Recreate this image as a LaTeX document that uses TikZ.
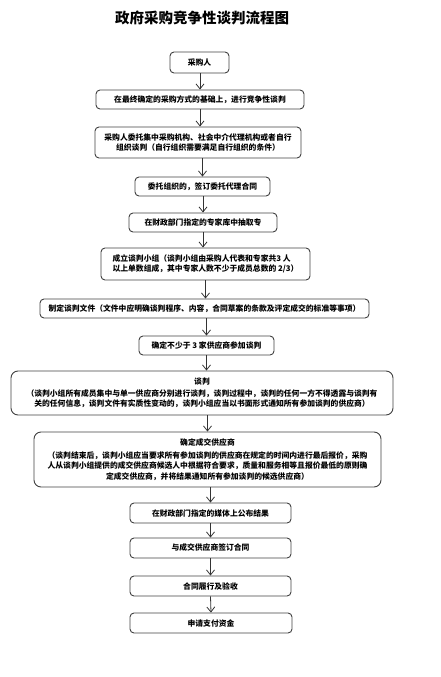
\documentclass[tikz,border=0pt]{standalone}
\usepackage{fontspec}
\setmainfont{Noto Sans CJK SC}
\usetikzlibrary{arrows.meta}
\tikzset{
  box/.style={draw=black!75, line width=0.9pt, rounded corners=4pt, inner sep=0pt, align=center,
    font=\fontsize{7.8}{10.5}\selectfont\bfseries, text=black},
  bigbox/.style={box, rounded corners=7pt},
  arr/.style={draw=black!80, line width=0.8pt, -{Straight Barb[length=5pt,width=8pt,line width=0.8pt]}},
}
\begin{document}
\begin{tikzpicture}[x=1pt,y=-1pt]
\useasboundingbox (0,0) rectangle (441,677);
\node[font=\fontsize{14.5}{16}\selectfont\bfseries] (title) at (202,18) {政府采购竞争性谈判流程图};
\node[box, minimum width=59pt, minimum height=21pt] (n1) at (199.5,62.5) {采购人};
\node[box, minimum width=208pt, minimum height=19pt] (n2) at (200,99.5) {在最终确定的采购方式的基础上，进行竞争性谈判};
\node[box, minimum width=206pt, minimum height=31pt] (n3) at (198,142.5) {采购人委托集中采购机构、社会中介代理机构或者自行\\组织谈判（自行组织需要满足自行组织的条件）};
\node[box, minimum width=135pt, minimum height=19pt] (n4) at (202.5,186.5) {委托组织的，签订委托代理合同};
\node[box, minimum width=148pt, minimum height=19pt] (n5) at (203,222.5) {在财政部门指定的专家库中抽取专};
\node[box, minimum width=209pt, minimum height=32pt, align=left] (n6) at (205.5,264) {成立谈判小组（谈判小组由采购人代表和专家共3 人\\以上单数组成，其中专家人数不少于成员总数的 2/3）};
\node[box, minimum width=329pt, minimum height=19pt] (n7) at (204.5,308.5) {制定谈判文件（文件中应明确谈判程序、内容，合同草案的条款及评定成交的标准等事项）};
\node[box, minimum width=135pt, minimum height=19pt] (n8) at (206.5,345.5) {确定不少于 3 家供应商参加谈判};
\node[bigbox, minimum width=382pt, minimum height=44pt] (n9) at (202,393) {谈判\\[1pt]（谈判小组所有成员集中与单一供应商分别进行谈判，谈判过程中，谈判的任何一方不得透露与谈判有\\关的任何信息，谈判文件有实质性变动的，谈判小组应当以书面形式通知所有参加谈判的供应商）};
\node[bigbox, minimum width=347pt, minimum height=55pt] (n10) at (207.5,459.5) {确定成交供应商\\[2pt]（谈判结束后，谈判小组应当要求所有参加谈判的供应商在规定的时间内进行最后报价，采购\\人从谈判小组提供的成交供应商候选人中根据符合要求，质量和服务相等且报价最低的原则确\\定成交供应商，并将结果通知所有参加谈判的候选供应商）};
\node[box, minimum width=161pt, minimum height=20pt] (n11) at (210.5,513) {在财政部门指定的媒体上公布结果};
\node[box, minimum width=161pt, minimum height=20pt] (n12) at (210.5,548) {与成交供应商签订合同};
\node[box, minimum width=161pt, minimum height=20pt] (n13) at (210.5,586) {合同履行及验收};
\node[box, minimum width=162pt, minimum height=20pt] (n14) at (211,623) {申请支付资金};
\draw[arr] (n2.north |- n1.south) -- (n2.north);
\draw[arr] (n2.south) -- (n2.south |- n3.north);
\draw[arr] (n4.north |- n3.south) -- (n4.north);
\draw[arr] (n5.north |- n4.south) -- (n5.north);
\draw[arr] (n5.south) -- (n5.south |- n6.north);
\draw[arr] (n6.south) -- (n6.south |- n7.north);
\draw[arr] (n8.north |- n7.south) -- (n8.north);
\draw[arr] (n8.south) -- (n8.south |- n9.north);
\draw[arr] (n10.north |- n9.south) -- (n10.north);
\draw[arr] (n11.north |- n10.south) -- (n11.north);
\draw[arr] (n11.south) -- (n12.north);
\draw[arr] (n12.south) -- (n13.north);
\draw[arr] (n13.south) -- (n14.north);
\end{tikzpicture}
\end{document}
